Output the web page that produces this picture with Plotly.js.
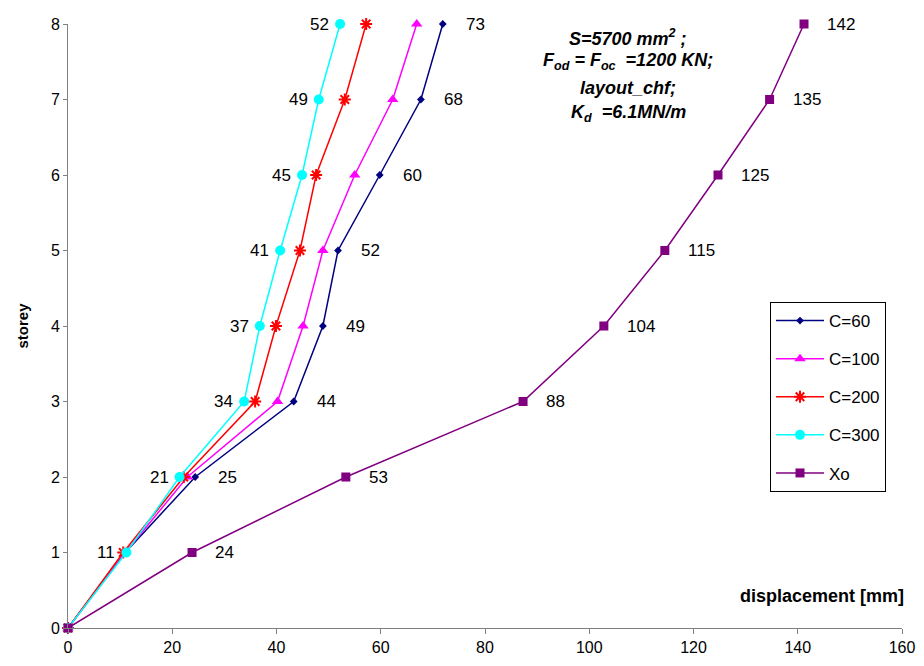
<!DOCTYPE html>
<html>
<head>
<meta charset="utf-8">
<script src="https://cdn.plot.ly/plotly-3.0.1.min.js"></script>
<style>html,body{margin:0;padding:0;background:#fff;}#chart{width:924px;height:666px;}</style>
</head>
<body>
<div id="chart"></div>
<script>
const storey = [0, 1, 2, 3, 4, 5, 6, 7, 8];
const c60  = [0, 11, 24.4, 43.3, 48.9, 51.8, 59.8, 67.7, 71.9];
const c100 = [0, 11, 22.9, 40.2, 45.1, 48.9, 55.0, 62.3, 66.9];
const c200 = [0, 10.6, 22.2, 35.9, 39.9, 44.5, 47.6, 53.1, 57.2];
const c300 = [0, 11.2, 21.4, 33.8, 36.8, 40.7, 44.9, 48.1, 52.2];
const xo   = [0, 23.8, 53.3, 87.3, 102.8, 114.5, 124.7, 134.6, 141.2];

const c60Labels  = ["", "", "25", "44", "49", "52", "60", "68", "73"];
const c300Labels = ["", "11", "21", "34", "37", "41", "45", "49", "52"];
const xoLabels   = ["", "24", "53", "88", "104", "115", "125", "135", "142"];

const names = ["C=60", "C=100", "C=200", "C=300", "Xo"];
const colors = ["#000080", "#FF00FF", "#FF0000", "#00FFFF", "#800080"];

const FONT = "Liberation Sans, Arial, sans-serif";

// plot area in pixels
const PL = 68, PR = 902, PT = 24, PB = 628;
const px = v => (v - PL) / (PR - PL);
const py = v => (PB - v) / (PB - PT);

function tr(x, i, marker) {
  return {
    x: x, y: storey, type: "scatter", mode: "lines+markers",
    name: names[i], legendgroup: "g" + i,
    line: {color: colors[i], width: 1.5},
    marker: Object.assign({color: colors[i]}, marker),
    cliponaxis: false
  };
}

const data = [
  tr(c60, 0, {symbol: "diamond", size: 6}),
  tr(c100, 1, {symbol: "triangle-up", size: 10}),
  tr(c200, 2, {symbol: "asterisk-open", size: 10, line: {color: colors[2], width: 2}}),
  tr(c300, 3, {symbol: "circle", size: 10}),
  tr(xo, 4, {symbol: "square", size: 9})
];

const ann = [];
function addLabels(xs, labels, right) {
  labels.forEach((t, k) => {
    if (!t) return;
    ann.push({
      x: xs[k], y: storey[k], xref: "x", yref: "y", text: t, showarrow: false,
      xanchor: right ? "left" : "right", xshift: right ? 21 : -9,
      font: {family: FONT, size: 17, color: "#000"}
    });
  });
}
addLabels(c60, c60Labels, true);
addLabels(xo, xoLabels, true);
addLabels(c300, c300Labels, false);

const infoFont = {family: FONT, size: 18, color: "#000"};
const infoLines = [
  ["<b><i>S=5700 mm<sup>2</sup> ;</i></b>", 37],
  ["<b><i>F<sub>od</sub> = F<sub>oc</sub>  =1200 KN;</i></b>", 62],
  ["<b><i>layout_chf;</i></b>", 88],
  ["<b><i>K<sub>d</sub>  =6.1MN/m</i></b>", 113]
];
infoLines.forEach(([t, y]) => {
  ann.push({x: px(628), y: py(y), xref: "paper", yref: "paper", text: t,
    showarrow: false, xanchor: "center", yanchor: "middle", font: infoFont});
});
ann.push({x: px(906), y: py(596), xref: "paper", yref: "paper",
  text: "<b>displacement [mm]</b>", showarrow: false, xanchor: "right", yanchor: "middle",
  font: {family: FONT, size: 18, color: "#000"}});

const layout = {
  width: 924, height: 666,
  margin: {l: PL, r: 924 - PR, t: PT, b: 666 - PB},
  paper_bgcolor: "#fff", plot_bgcolor: "#fff",
  font: {family: FONT, size: 17, color: "#000"},
  showlegend: true,
  legend: {
    x: px(770), y: py(302), xanchor: "left", yanchor: "top",
    xref: "paper", yref: "paper",
    bordercolor: "#000", borderwidth: 1, bgcolor: "#fff",
    font: {family: FONT, size: 17, color: "#000"},
    tracegroupgap: 13, itemwidth: 48
  },
  xaxis: {
    range: [0, 160], dtick: 20, tick0: 0,
    showgrid: false, zeroline: false, showline: true, linecolor: "#808080", linewidth: 1,
    ticks: "outside", ticklen: 5, tickcolor: "#808080",
    tickfont: {family: FONT, size: 16, color: "#000"}
  },
  yaxis: {
    range: [0, 8], dtick: 1, tick0: 0,
    showgrid: false, zeroline: false, showline: true, linecolor: "#808080", linewidth: 1,
    ticks: "outside", ticklen: 4, tickcolor: "#808080",
    tickfont: {family: FONT, size: 16, color: "#000"},
    title: {text: "<b>storey</b>", font: {family: FONT, size: 15, color: "#000"}, standoff: 18}
  },
  annotations: ann
};

Plotly.newPlot("chart", data, layout, {displayModeBar: false, staticPlot: true});
</script>
</body>
</html>
